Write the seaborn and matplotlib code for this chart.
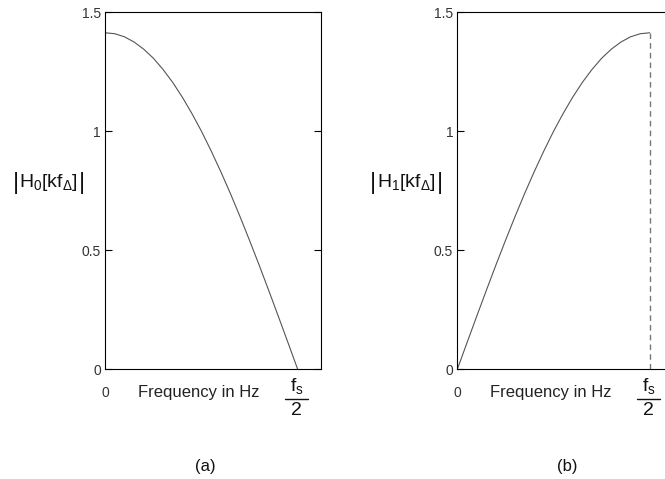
import matplotlib
matplotlib.use("Agg")
import matplotlib.pyplot as plt
import matplotlib.transforms as mtransforms
import seaborn as sns
import pandas as pd

# values (frequency as fraction of fs/2)
freq = [0.0, 0.05, 0.10, 0.15, 0.20, 0.25, 0.30, 0.35, 0.40, 0.45, 0.50,
        0.55, 0.60, 0.65, 0.70, 0.75, 0.80, 0.85, 0.90, 0.95, 1.0]
h0_mag = [1.414, 1.410, 1.397, 1.375, 1.345, 1.307, 1.260, 1.206, 1.144, 1.075, 1.000,
          0.918, 0.831, 0.739, 0.642, 0.541, 0.437, 0.330, 0.221, 0.111, 0.0]
h1_mag = [0.0, 0.111, 0.221, 0.330, 0.437, 0.541, 0.642, 0.739, 0.831, 0.918, 1.000,
          1.075, 1.144, 1.206, 1.260, 1.307, 1.345, 1.375, 1.397, 1.410, 1.414]
y_ticks = [0, 0.5, 1, 1.5]
y_tick_labels = ["0", "0.5", "1", "1.5"]
y_labels = [r"$\mathrm{H_0[kf_\Delta]}$", r"$\mathrm{H_1[kf_\Delta]}$"]
panel_tags = ["(a)", "(b)"]

sns.set_style("white")
plt.rcParams["font.family"] = ["Liberation Sans", "DejaVu Sans"]
plt.rcParams["mathtext.fontset"] = "custom"
plt.rcParams["mathtext.rm"] = "Liberation Sans"
plt.rcParams["mathtext.it"] = "Liberation Sans"
plt.rcParams["mathtext.bf"] = "Liberation Sans:bold"

fig = plt.figure(figsize=(6.65, 4.79), dpi=100)
ax_a = fig.add_axes([0.1583, 0.229, 0.3244, 0.7453])
ax_b = fig.add_axes([0.6877, 0.229, 0.3244, 0.7453])

df_a = pd.DataFrame({"freq": freq, "mag": h0_mag})
df_b = pd.DataFrame({"freq": freq, "mag": h1_mag})

sns.lineplot(data=df_a, x="freq", y="mag", ax=ax_a, color="#555555", linewidth=0.8)
sns.lineplot(data=df_b, x="freq", y="mag", ax=ax_b, color="#555555", linewidth=0.8)
# dashed marker at fs/2 on panel (b)
ax_b.plot([freq[-1], freq[-1]], [0, h1_mag[-1]], color="#777777", linewidth=1.0,
          linestyle=(0, (4, 3)))

# (left bar, text centre, right bar) in axes fraction, per panel
label_pos = [(-0.416, -0.262, -0.107), (-0.39, -0.235, -0.08)]
tag_x = [0.462, 0.509]

for ax, ylab, tag, lp, tx in zip([ax_a, ax_b], y_labels, panel_tags, label_pos, tag_x):
    ax.set_xlim(0, 1.121)
    ax.set_ylim(0, 1.5)
    ax.set_yticks(y_ticks)
    ax.set_yticklabels(y_tick_labels)
    ax.set_xticks([])
    ax.set_xlabel("")
    ax.set_ylabel("")
    ax.tick_params(axis="y", direction="in", left=True, right=True, length=5,
                   width=0.8, colors="black", labelcolor="#333333", labelsize=10, pad=3)
    for s in ax.spines.values():
        s.set_visible(True)
        s.set_color("black")
        s.set_linewidth(0.8)

    trans = mtransforms.blended_transform_factory(ax.transData, ax.transAxes)
    ax.text(0, -0.066, "0", transform=trans, ha="center", va="center",
            fontsize=10, color="#333333")
    ax.text(0.485, -0.066, "Frequency in Hz", transform=trans, ha="center",
            va="center", fontsize=12, color="#222222")
    # fs / 2 written as a stacked fraction
    ax.text(0.994, -0.061, r"$\mathrm{f_s}$", transform=trans, ha="center",
            va="baseline", fontsize=14, color="#111111")
    ax.plot([0.934, 1.054], [-0.0818, -0.0818], transform=trans, color="#111111",
            linewidth=1.0, clip_on=False)
    ax.text(0.994, -0.114, "2", transform=trans, ha="center", va="center",
            fontsize=14, color="#111111")

    # |H[kf]| with tall bars
    ax.text(lp[0], 0.522, "|", transform=ax.transAxes, ha="center", va="center",
            fontsize=17, color="#111111")
    ax.text(lp[1], 0.522, ylab, transform=ax.transAxes, ha="center", va="center",
            fontsize=14, color="#111111")
    ax.text(lp[2], 0.522, "|", transform=ax.transAxes, ha="center", va="center",
            fontsize=17, color="#111111")

    ax.text(tx, -0.271, tag, transform=ax.transAxes, ha="center", va="center",
            fontsize=12, color="#111111")

fig.savefig("out.png", dpi=100)
